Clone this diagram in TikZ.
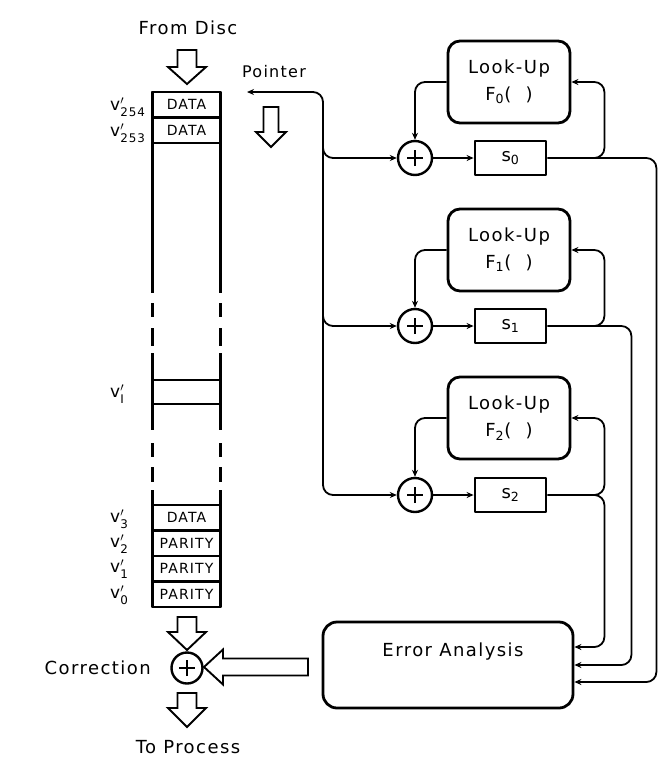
\documentclass[tikz,border=0pt]{standalone}
\usepackage{fontspec}
\usepackage{amsmath}
\setmainfont{DejaVu Sans}[LetterSpace=8]
\usetikzlibrary{arrows.meta}
% hollow down arrow: cx, ytop, ybase, ytip, shaft half width, head half width
\newcommand{\hdarrow}[6]{%
  \draw[hollow] ({#1-#5},#2) -- ({#1+#5},#2) -- ({#1+#5},#3) -- ({#1+#6},#3) -- (#1,#4) -- ({#1-#6},#3) -- ({#1-#5},#3) -- cycle;}
% hollow left arrow: cy, xstart, xbase, xtip, shaft half width, head half width
\newcommand{\hlarrow}[6]{%
  \draw[hollow] (#2,{#1-#5}) -- (#2,{#1+#5}) -- (#3,{#1+#5}) -- (#3,{#1+#6}) -- (#4,#1) -- (#3,{#1-#6}) -- (#3,{#1-#5}) -- cycle;}
\begin{document}
\begin{tikzpicture}[x=1pt,y=-1pt,line join=round,
  font=\fontsize{18}{22}\selectfont,
  conn/.style={line width=1.8pt,rounded corners=10pt},
  arr/.style={-{Stealth[length=7pt,width=6pt]}},
  hollow/.style={draw,line width=1.9pt,fill=white,line join=miter},
  colline/.style={line width=2.8pt},
  cell/.style={draw,line width=2.5pt,minimum width=69pt,minimum height=25.5pt,inner sep=0pt,font=\fontsize{14}{16}\selectfont},
  vlab/.style={anchor=west,inner sep=0pt,font=\fontsize{17}{18}\selectfont},
  lookbox/.style={draw,line width=2.8pt,rounded corners=12pt,minimum width=122pt,minimum height=82pt,align=center,font=\fontsize{18}{27}\selectfont},
  sbox/.style={draw,line width=2.8pt,minimum width=71pt,minimum height=34pt,inner sep=0pt},
  adder/.style={draw,circle,line width=2.4pt,minimum size=#1,inner sep=0pt,
    path picture={\draw[line width=2.2pt] ([xshift=-8pt]path picture bounding box.center) -- ([xshift=8pt]path picture bounding box.center);
                  \draw[line width=2.2pt] ([yshift=-8pt]path picture bounding box.center) -- ([yshift=8pt]path picture bounding box.center);}},
  adder/.default=34pt]
\useasboundingbox[fill=white] (0,0) rectangle (671,772);

% ---------- memory column ----------
\foreach \x in {152.5,220.5}{
  \draw[colline] (\x,92) -- (\x,293);
  \draw[colline] (\x,303) -- (\x,317);
  \draw[colline] (\x,328) -- (\x,346);
  \draw[colline] (\x,353) -- (\x,430);
  \draw[colline] (\x,443) -- (\x,457);
  \draw[colline] (\x,467) -- (\x,482);
  \draw[colline] (\x,490) -- (\x,607);
}
\node[cell] (d254) at (186.5,104.75) {DATA};
\node[cell] (d253) at (186.5,130.25) {DATA};
\draw[colline] (152.5,380) -- (220.5,380);
\draw[colline] (152.5,404) -- (220.5,404);
\node[cell] (d3) at (186.5,517.75) {DATA};
\node[cell] (p2) at (186.5,543.25) {PARITY};
\node[cell] (p1) at (186.5,568.75) {PARITY};
\node[cell] (p0) at (186.5,594.25) {PARITY};

\node[vlab] (l254) at (110,107) {$\text{v}'_{\text{254}}$};
\node[vlab] (l253) at (110,133) {$\text{v}'_{\text{253}}$};
\node[vlab] (lI)   at (110,394) {$\text{v}'_{\text{I}}$};
\node[vlab] (l3)   at (110,519) {$\text{v}'_{\text{3}}$};
\node[vlab] (l2)   at (110,544) {$\text{v}'_{\text{2}}$};
\node[vlab] (l1)   at (110,569) {$\text{v}'_{\text{1}}$};
\node[vlab] (l0)   at (110,595) {$\text{v}'_{\text{0}}$};

% ---------- top texts and arrows ----------
\node (disc) at (188,28) {From Disc};
\hdarrow{187}{50}{67}{84}{9.5}{19}
\node[font=\fontsize{16}{20}\selectfont] (ptr) at (274,72) {Pointer};
\hdarrow{271}{107}{132}{147}{7.5}{15}

% ---------- right blocks ----------
\node[lookbox] (lk0) at (509,82)  {Look-Up\\F\textsubscript{0}(\ \ )};
\node[lookbox] (lk1) at (509,250) {Look-Up\\F\textsubscript{1}(\ \ )};
\node[lookbox] (lk2) at (509,418) {Look-Up\\F\textsubscript{2}(\ \ )};
\node[adder] (a0) at (415,158) {};
\node[adder] (a1) at (415,326) {};
\node[adder] (a2) at (415,495) {};
\node[sbox] (s0) at (510.5,158) {s\textsubscript{0}};
\node[sbox] (s1) at (510.5,326) {s\textsubscript{1}};
\node[sbox] (s2) at (510.5,495) {s\textsubscript{2}};

\node[draw,line width=2.8pt,rounded corners=14pt,minimum width=250pt,minimum height=86pt] (ea) at (448,665) {};
\node (eatxt) at (453,652) {Error Analysis};
\path (ea.east) ++(0,-18) coordinate (in2);
\path (ea.east) coordinate (in1);
\path (ea.east) ++(0,17) coordinate (in0);

% pointer bus
\coordinate (ptip) at (247,92);
\coordinate (pcorner) at (323,92);
\draw[conn,{Stealth[length=7pt,width=6pt]}-{Stealth[length=7pt,width=6pt]}] (ptip) -- (pcorner) |- (a2.west);
\draw[conn,arr] (323,135) |- (a0.west);
\draw[conn,arr] (323,303) |- (a1.west);

% adders to syndrome registers
\draw[conn,arr] (a0) -- (s0);
\draw[conn,arr] (a1) -- (s1);
\draw[conn,arr] (a2) -- (s2);

% look-up outputs to adders
\draw[conn,arr] (lk0.west) -| (a0.north);
\draw[conn,arr] (lk1.west) -| (a1.north);
\draw[conn,arr] (lk2.west) -| (a2.north);

% feedback to look-ups
\draw[conn,arr] ([xshift=44pt]s0.east) -| ([xshift=33pt]lk0.east) -- (lk0.east);
\draw[conn,arr] ([xshift=44pt]s1.east) -| ([xshift=33pt]lk1.east) -- (lk1.east);
\draw[conn,arr] ([xshift=44pt]s2.east) -| ([xshift=33pt]lk2.east) -- (lk2.east);

% outputs to error analysis
\draw[conn,arr] (s0.east) -| ([xshift=82pt]in0) -- (in0);
\draw[conn,arr] (s1.east) -| ([xshift=57pt]in1) -- (in1);
\draw[conn,arr] (s2.east) -| ([xshift=30pt]in2) -- (in2);

% ---------- correction ----------
\hdarrow{187}{617}{632}{650}{9.5}{19}
\node[adder=31pt] (corr) at (187,668) {};
\hlarrow{667}{308}{223}{204}{8.5}{17.5}
\node[anchor=east] (corrtxt) at ([xshift=-16pt]corr.west) {Correction};
\hdarrow{187}{693}{708}{727}{9.5}{19}
\node (proc) at (188,747) {To Process};
\end{tikzpicture}
\end{document}
